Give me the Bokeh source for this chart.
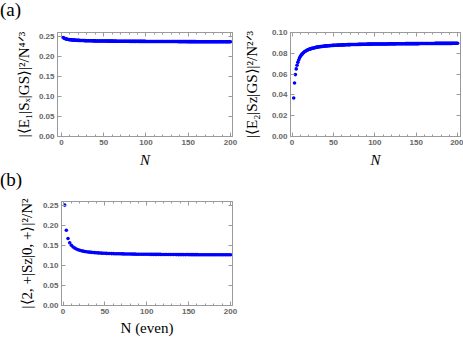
from bokeh.plotting import figure
from bokeh.models import Range1d, LinearAxis, FixedTicker, NumeralTickFormatter, Div
from bokeh.layouts import column, row
from bokeh.embed import file_html
from bokeh.resources import INLINE

# ---------------- data ----------------
n_all = list(range(2, 201))
n_even = list(range(2, 201, 2))

# (a) left: |<E1|Sx|GS>|^2 / N^(4/3), N = 2..200
e1_sx = [
    0.2465, 0.2450, 0.2440, 0.2432, 0.2426, 0.2421, 0.2417, 0.2413, 0.2410,
    0.2408, 0.2406, 0.2404, 0.2402, 0.2400, 0.2399, 0.2397, 0.2396, 0.2395, 0.2394,
    0.2393, 0.2392, 0.2391, 0.2390, 0.2389, 0.2389, 0.2388, 0.2387, 0.2386, 0.2386,
    0.2385, 0.2385, 0.2384, 0.2384, 0.2383, 0.2383, 0.2382, 0.2382, 0.2381, 0.2381,
    0.2380, 0.2380, 0.2380, 0.2379, 0.2379, 0.2379, 0.2378, 0.2378, 0.2378, 0.2377,
    0.2377, 0.2377, 0.2376, 0.2376, 0.2376, 0.2376, 0.2375, 0.2375, 0.2375, 0.2375,
    0.2374, 0.2374, 0.2374, 0.2374, 0.2373, 0.2373, 0.2373, 0.2373, 0.2373, 0.2372,
    0.2372, 0.2372, 0.2372, 0.2372, 0.2371, 0.2371, 0.2371, 0.2371, 0.2371, 0.2371,
    0.2370, 0.2370, 0.2370, 0.2370, 0.2370, 0.2370, 0.2369, 0.2369, 0.2369, 0.2369,
    0.2369, 0.2369, 0.2368, 0.2368, 0.2368, 0.2368, 0.2368, 0.2368, 0.2368, 0.2367,
    0.2367, 0.2367, 0.2367, 0.2367, 0.2367, 0.2367, 0.2367, 0.2366, 0.2366, 0.2366,
    0.2366, 0.2366, 0.2366, 0.2366, 0.2366, 0.2366, 0.2365, 0.2365, 0.2365, 0.2365,
    0.2365, 0.2365, 0.2365, 0.2365, 0.2365, 0.2365, 0.2364, 0.2364, 0.2364, 0.2364,
    0.2364, 0.2364, 0.2364, 0.2364, 0.2364, 0.2364, 0.2364, 0.2363, 0.2363, 0.2363,
    0.2363, 0.2363, 0.2363, 0.2363, 0.2363, 0.2363, 0.2363, 0.2363, 0.2362, 0.2362,
    0.2362, 0.2362, 0.2362, 0.2362, 0.2362, 0.2362, 0.2362, 0.2362, 0.2362, 0.2361,
    0.2361, 0.2361, 0.2361, 0.2361, 0.2361, 0.2361, 0.2361, 0.2361, 0.2361, 0.2361,
    0.2360, 0.2360, 0.2360, 0.2360, 0.2360, 0.2360, 0.2360, 0.2360, 0.2360, 0.2360,
    0.2360, 0.2360, 0.2360, 0.2360, 0.2360, 0.2359, 0.2359, 0.2359, 0.2359, 0.2359,
    0.2359, 0.2359, 0.2359, 0.2359, 0.2359, 0.2359, 0.2358, 0.2358, 0.2358, 0.2358,
]

# (a) right: |<E2|Sz|GS>|^2 / N^(2/3), N = 2..200
e2_sz = [
    0.0370, 0.0515, 0.0595, 0.0650, 0.0685, 0.0713, 0.0735, 0.0754, 0.0770,
    0.0782, 0.0792, 0.0800, 0.0808, 0.0815, 0.0820, 0.0825, 0.0829, 0.0833, 0.0837,
    0.0840, 0.0842, 0.0845, 0.0847, 0.0849, 0.0851, 0.0853, 0.0855, 0.0857, 0.0859,
    0.0860, 0.0862, 0.0863, 0.0864, 0.0865, 0.0866, 0.0867, 0.0868, 0.0869, 0.0870,
    0.0871, 0.0871, 0.0872, 0.0873, 0.0873, 0.0874, 0.0875, 0.0875, 0.0876, 0.0876,
    0.0877, 0.0877, 0.0878, 0.0878, 0.0879, 0.0879, 0.0879, 0.0880, 0.0880, 0.0880,
    0.0881, 0.0881, 0.0881, 0.0882, 0.0882, 0.0882, 0.0883, 0.0883, 0.0883, 0.0883,
    0.0884, 0.0884, 0.0884, 0.0884, 0.0885, 0.0885, 0.0885, 0.0885, 0.0885, 0.0886,
    0.0886, 0.0886, 0.0886, 0.0886, 0.0887, 0.0887, 0.0887, 0.0887, 0.0887, 0.0887,
    0.0888, 0.0888, 0.0888, 0.0888, 0.0888, 0.0888, 0.0889, 0.0889, 0.0889, 0.0889,
    0.0889, 0.0889, 0.0889, 0.0889, 0.0889, 0.0890, 0.0890, 0.0890, 0.0890, 0.0890,
    0.0890, 0.0890, 0.0890, 0.0890, 0.0890, 0.0891, 0.0891, 0.0891, 0.0891, 0.0891,
    0.0891, 0.0891, 0.0891, 0.0891, 0.0891, 0.0892, 0.0892, 0.0892, 0.0892, 0.0892,
    0.0892, 0.0892, 0.0892, 0.0892, 0.0892, 0.0892, 0.0893, 0.0893, 0.0893, 0.0893,
    0.0893, 0.0893, 0.0893, 0.0893, 0.0893, 0.0893, 0.0893, 0.0893, 0.0893, 0.0893,
    0.0893, 0.0893, 0.0893, 0.0894, 0.0894, 0.0894, 0.0894, 0.0894, 0.0894, 0.0894,
    0.0894, 0.0894, 0.0894, 0.0894, 0.0894, 0.0894, 0.0894, 0.0894, 0.0894, 0.0894,
    0.0894, 0.0894, 0.0895, 0.0895, 0.0895, 0.0895, 0.0895, 0.0895, 0.0895, 0.0895,
    0.0895, 0.0895, 0.0895, 0.0895, 0.0895, 0.0895, 0.0895, 0.0895, 0.0895, 0.0895,
    0.0895, 0.0895, 0.0895, 0.0896, 0.0896, 0.0896, 0.0896, 0.0896, 0.0896, 0.0896,
]

# (b): |<2,+|Sz|0,+>|^2 / N^2, N even = 2..200
b_sz = [
    0.2500, 0.1875, 0.1667, 0.1563, 0.1500, 0.1458, 0.1429, 0.1406, 0.1389, 0.1375,
    0.1364, 0.1354, 0.1346, 0.1339, 0.1333, 0.1328, 0.1324, 0.1319, 0.1316, 0.1313,
    0.1310, 0.1307, 0.1304, 0.1302, 0.1300, 0.1298, 0.1296, 0.1295, 0.1293, 0.1292,
    0.1290, 0.1289, 0.1288, 0.1287, 0.1286, 0.1285, 0.1284, 0.1283, 0.1282, 0.1281,
    0.1280, 0.1280, 0.1279, 0.1278, 0.1278, 0.1277, 0.1277, 0.1276, 0.1276, 0.1275,
    0.1275, 0.1274, 0.1274, 0.1273, 0.1273, 0.1272, 0.1272, 0.1272, 0.1271, 0.1271,
    0.1270, 0.1270, 0.1270, 0.1270, 0.1269, 0.1269, 0.1269, 0.1268, 0.1268, 0.1268,
    0.1268, 0.1267, 0.1267, 0.1267, 0.1267, 0.1266, 0.1266, 0.1266, 0.1266, 0.1266,
    0.1265, 0.1265, 0.1265, 0.1265, 0.1265, 0.1265, 0.1264, 0.1264, 0.1264, 0.1264,
    0.1264, 0.1264, 0.1263, 0.1263, 0.1263, 0.1263, 0.1263, 0.1263, 0.1263, 0.1263,
]

x_ticks = [0, 50, 100, 150, 200]
y_ticks_a = [0.0, 0.05, 0.10, 0.15, 0.20, 0.25]
y_ticks_b = [0.0, 0.02, 0.04, 0.06, 0.08, 0.10]

FRAME = "#9a9a9a"
TICK_TXT = "#666666"
BLUE = "#0000ff"


def style_axis(ax, labels=True):
    ax.axis_line_color = FRAME
    ax.major_tick_line_color = FRAME
    ax.minor_tick_line_color = FRAME
    ax.major_tick_in = 4
    ax.major_tick_out = 0
    ax.minor_tick_in = 2
    ax.minor_tick_out = 0
    if labels:
        ax.major_label_text_font = "Liberation Sans"
        ax.major_label_text_font_style = "bold"
        ax.major_label_text_font_size = "8px"
        ax.major_label_text_color = TICK_TXT
        ax.major_label_standoff = 3
    else:
        ax.major_label_text_font_size = "0px"
        ax.major_label_text_color = None
        ax.major_label_standoff = 0


def make_fig(w, h, xr, yr, yticks, mbl, mbr, mbt, mbb, xlabel, ylabel,
             xl_style="italic", xl_standoff=4, yl_standoff=5):
    p = figure(width=w, height=h, x_range=Range1d(*xr), y_range=Range1d(*yr),
               output_backend="svg", toolbar_location=None,
               min_border_left=mbl, min_border_right=mbr,
               min_border_top=mbt, min_border_bottom=mbb)
    p.xgrid.visible = False
    p.ygrid.visible = False
    p.outline_line_color = FRAME
    p.background_fill_color = "white"
    p.border_fill_color = "white"

    xa = p.xaxis[0]
    ya = p.yaxis[0]
    xa.ticker = FixedTicker(ticks=x_ticks, minor_ticks=list(range(0, 201, 10)))
    ya.ticker = FixedTicker(ticks=yticks)
    ya.formatter = NumeralTickFormatter(format="0.00")
    style_axis(xa)
    style_axis(ya)
    xa.axis_label = xlabel
    xa.axis_label_text_font = "Liberation Serif"
    xa.axis_label_text_font_style = xl_style
    xa.axis_label_text_font_size = "15px"
    xa.axis_label_text_color = "black"
    xa.axis_label_standoff = xl_standoff
    ya.axis_label = ylabel
    ya.axis_label_text_font = "Liberation Serif"
    ya.axis_label_text_font_style = "normal"
    ya.axis_label_text_font_size = "15px"
    ya.axis_label_text_color = "black"
    ya.axis_label_standoff = yl_standoff

    top = LinearAxis(ticker=FixedTicker(ticks=x_ticks, minor_ticks=list(range(0, 201, 10))))
    right = LinearAxis(ticker=FixedTicker(ticks=yticks))
    style_axis(top, labels=False)
    style_axis(right, labels=False)
    p.add_layout(top, "above")
    p.add_layout(right, "right")
    return p


p1 = make_fig(240, 148, (-4.7, 202.4), (0, 0.259), y_ticks_a, 57, 8, 8, 30,
              "N", "|⟨E₁|Sₓ|GS⟩|²/N⁴ᐟ³", yl_standoff=4)
p1.scatter(n_all, e1_sx, size=3.6, color=BLUE, line_color=None)

p2 = make_fig(223, 148, (-1.9, 203.5), (0, 0.10), y_ticks_b, 45, 3, 10, 30,
              "N", "|⟨E₂|Sz|GS⟩|²/N²ᐟ³", yl_standoff=9)
p2.scatter(n_all, e2_sz, size=3.6, color=BLUE, line_color=None)

p3 = make_fig(240, 148, (-1.8, 202.4), (0, 0.259), y_ticks_a, 61, 8, 11, 29,
              "N (even)", "|⟨2, +|Sz|0, +⟩|²/N²", xl_style="normal",
              xl_standoff=3, yl_standoff=5)
p3.scatter(n_even, b_sz, size=3.6, color=BLUE, line_color=None)

div_style = {"font-family": "Liberation Serif", "font-size": "19px",
             "line-height": "20px", "color": "black", "padding-left": "0px"}
da = Div(text="(a)", width=40, height=22, margin=0, styles=div_style)
db = Div(text="(b)", width=40, height=20, margin=0, styles=div_style)

layout = column(da, row(p1, p2, spacing=0), db, p3, spacing=0)

open("out.html", "w").write(file_html(layout, INLINE))
